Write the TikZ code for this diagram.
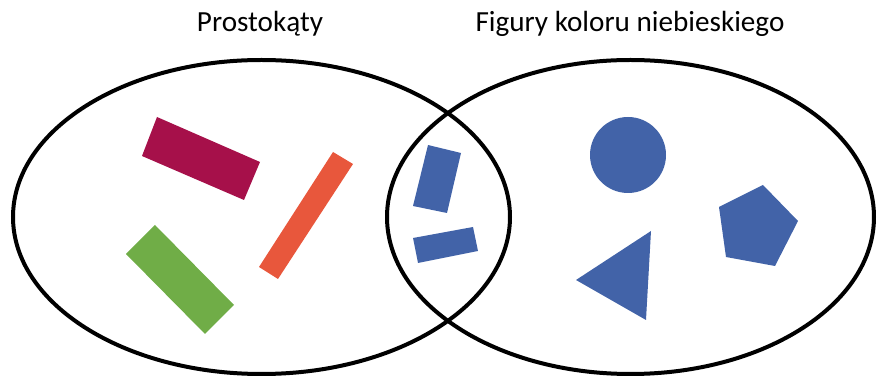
\documentclass[tikz,border=0pt]{standalone}
\usepackage{fontspec}
\setmainfont{Carlito}
\definecolor{magentarect}{RGB}{166,16,74}
\definecolor{orangerect}{RGB}{232,87,60}
\definecolor{greenrect}{RGB}{112,173,71}
\definecolor{bluefig}{RGB}{66,99,168}
\begin{document}
\begin{tikzpicture}[x=0.02cm,y=-0.02cm,
  setline/.style={line width=0.08cm},
  lbl/.style={anchor=base,inner sep=0pt,font=\fontsize{16.6pt}{20pt}\selectfont}]
\useasboundingbox (0,0) rectangle (877,378);
% left set: rectangles
\fill[magentarect] (157,117) -- (260,162) -- (244,200) -- (142,156) -- cycle;
\fill[orangerect] (333,152) -- (353,164) -- (278,279) -- (259,267) -- cycle;
\fill[greenrect] (155,225) -- (234,305) -- (205,334) -- (126,254) -- cycle;
% intersection: blue rectangles
\fill[bluefig] (428,145) -- (461,153) -- (447,213) -- (413,206) -- cycle;
\fill[bluefig] (413,238) -- (473,227) -- (478,251) -- (418,263) -- cycle;
% right set: blue figures
\fill[bluefig] (628,155) circle[radius=38];
\fill[bluefig] (651,231) -- (646,320) -- (576,280) -- cycle;
\fill[bluefig] (763,185) -- (798,221) -- (775,266) -- (726,257) -- (719,207) -- cycle;
% sets
\draw[setline] (261.5,217) ellipse[x radius=248.5, y radius=157];
\draw[setline] (630.5,217) ellipse[x radius=243.5, y radius=157];
\node[lbl] (lA) at (260,32) {Prostokąty};
\node[lbl] (lB) at (630,32) {Figury koloru niebieskiego};
\end{tikzpicture}
\end{document}
